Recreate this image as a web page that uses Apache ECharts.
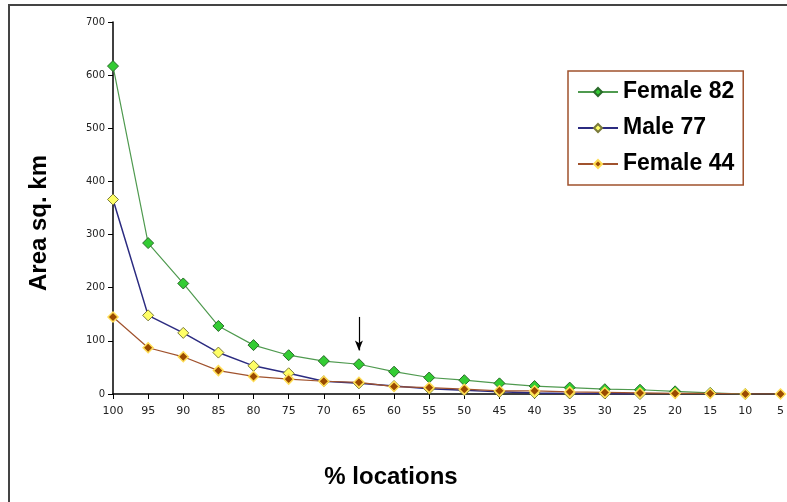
<!DOCTYPE html>
<html><head><meta charset="utf-8">
<script src="https://cdn.jsdelivr.net/npm/echarts@6/dist/echarts.min.js"></script>
<style>html,body{margin:0;padding:0;background:#fff}#c{width:787px;height:502px}</style>
</head><body><div id="c"></div>
<script>
const categories = ['100','95','90','85','80','75','70','65','60','55','50','45','40','35','30','25','20','15','10','5'];
const female82 = [617,284,208,128,92,73,62,56,42,31,26,20,15,12,9,8,5,2,0,null];
const male77   = [366,148,115,78,53,39,24,20,15,10,7,4,2,1,1,0,null,null,null,null];
const female44 = [145,87,70,44,33,28,24,22,14,12,9,6,6,4,3,2,1,1,0,0];
const yTicks = [0,100,200,300,400,500,600,700];
const arrowAt = {cat:'65', from:145, to:82};
const xTitle = '% locations';
const yTitle = 'Area sq. km';

const chart = echarts.init(document.getElementById('c'));
const titleFont = {fontFamily:'Liberation Sans, Arial',fontWeight:'bold',fontSize:24,fill:'#000'};
chart.setOption({
  animation:false,
  backgroundColor:'#fff',
  graphic:[
    {type:'rect',shape:{x:9,y:5,width:800,height:520},style:{fill:'none',stroke:'#444',lineWidth:2},z:-1},
    {type:'text',x:391,y:477,style:Object.assign({text:xTitle,align:'center',verticalAlign:'middle'},titleFont)},
    {type:'text',x:39,y:223,rotation:Math.PI/2,style:Object.assign({text:yTitle,align:'center',verticalAlign:'middle'},titleFont)}
  ],
  grid:{left:113,right:5,top:22,bottom:108},
  legend:{
    left:568,top:71,orient:'vertical',itemGap:12,
    padding:[9,9,9,9],borderColor:'#a0522d',borderWidth:1.5,backgroundColor:'#fff',
    itemWidth:40,itemHeight:10,
    textStyle:{fontFamily:'Liberation Sans, Arial',fontWeight:'bold',fontSize:23,color:'#000',lineHeight:24},
    data:['Female 82','Male 77','Female 44']
  },
  xAxis:{
    type:'category',data:categories,boundaryGap:false,
    axisLine:{lineStyle:{color:'#000',width:1.5}},
    axisTick:{show:true,alignWithLabel:true,length:5,lineStyle:{color:'#000'}},
    axisLabel:{fontFamily:'DejaVu Sans',fontSize:11,color:'#222',margin:12,interval:0}
  },
  yAxis:{
    type:'value',min:0,max:700,interval:100,
    axisLine:{show:true,lineStyle:{color:'#000',width:1.5}},
    axisTick:{show:true,length:5,lineStyle:{color:'#000'}},
    splitLine:{show:false},
    axisLabel:{fontFamily:'DejaVu Sans',fontSize:10,color:'#222',margin:8,
      formatter:v=>yTicks.includes(v)?String(v):''}
  },
  series:[
    {name:'Female 82',type:'line',data:female82,symbol:'diamond',symbolSize:11,
     lineStyle:{color:'#4f9a4f',width:1.2},itemStyle:{color:'#33cc33',borderColor:'#2a6a2a',borderWidth:1},
     markLine:{silent:true,symbol:['none','arrow'],symbolSize:[6,10],label:{show:false},
       lineStyle:{color:'#000',width:1.2,type:'solid'},
       data:[[{coord:[arrowAt.cat,arrowAt.from]},{coord:[arrowAt.cat,arrowAt.to]}]]}},
    {name:'Male 77',type:'line',data:male77,symbol:'diamond',symbolSize:11,
     lineStyle:{color:'#2b2b80',width:1.5},itemStyle:{color:'#ffff66',borderColor:'#7a7a3a',borderWidth:1}},
    {name:'Female 44',type:'line',data:female44,symbol:'diamond',symbolSize:10,
     lineStyle:{color:'#a0522d',width:1.2},itemStyle:{color:'#9a4a00',borderColor:'#ffdd55',borderWidth:1.5}}
  ]
});
</script></body></html>
